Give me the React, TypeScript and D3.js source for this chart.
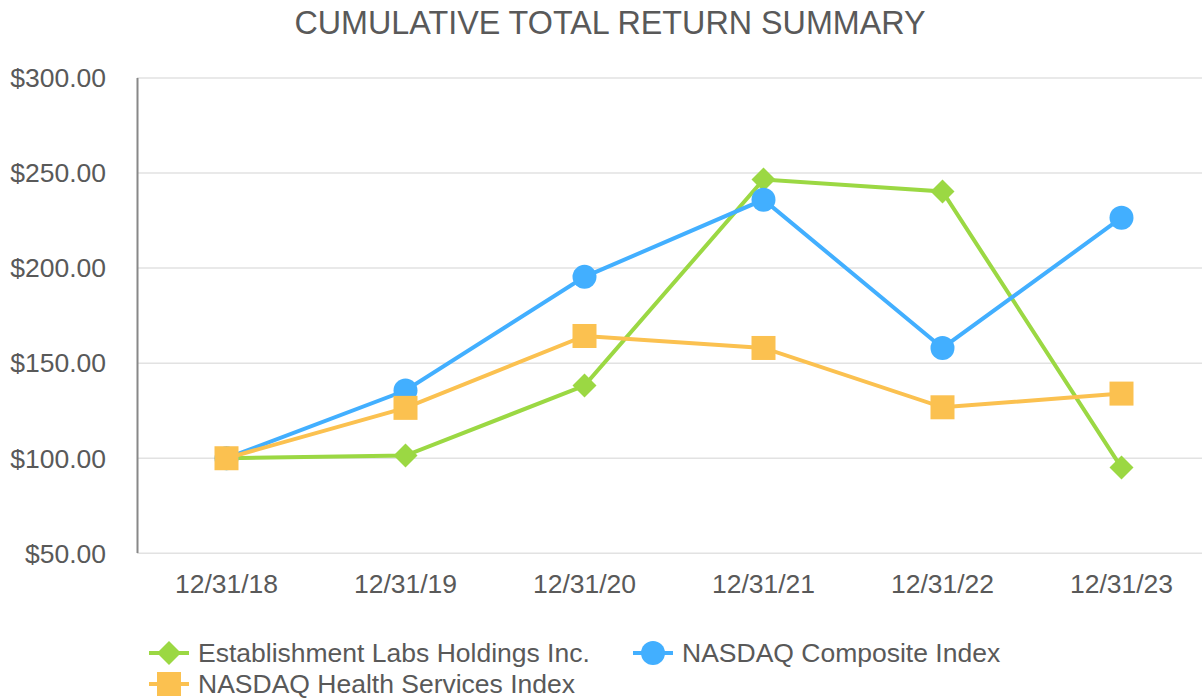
import React from "react";
import * as d3 from "d3";

const categories = ["12/31/18", "12/31/19", "12/31/20", "12/31/21", "12/31/22", "12/31/23"];
const establishment = [100, 101.4, 138.2, 246.6, 240.3, 95.1];
const nasdaqComposite = [100, 135.6, 195.4, 236, 158, 226.5];
const nasdaqHealth = [100, 126.5, 164.3, 158, 126.8, 134];
const yTicks = [50, 100, 150, 200, 250, 300];

const seriesNames = ["Establishment Labs Holdings Inc.", "NASDAQ Composite Index", "NASDAQ Health Services Index"];
const colors = ["#9BD843", "#42AFFF", "#FBC150"];

const W = 1202;
const H = 698;
const FONT = "'Liberation Sans', Arial, sans-serif";
const TEXT = "#595959";
const FS = 26.5;

function Marker({ kind, x, y, color }: { kind: string; x: number; y: number; color: string }) {
  if (kind === "diamond") {
    const r = 12;
    return <path d={`M${x},${y - r}L${x + r},${y}L${x},${y + r}L${x - r},${y}Z`} fill={color} />;
  }
  if (kind === "circle") return <circle cx={x} cy={y} r={12} fill={color} />;
  return <rect x={x - 12} y={y - 12} width={24} height={24} fill={color} />;
}

export default function App() {
  const x = d3.scalePoint<string>().domain(categories).range([137, 1211]).padding(0.5);
  const y = d3.scaleLinear().domain([50, 300]).range([553.3, 78]);
  const line = d3
    .line<number>()
    .x((_, i) => x(categories[i]) as number)
    .y((d) => y(d));

  const series = [
    { name: seriesNames[0], values: establishment, color: colors[0], kind: "diamond" },
    { name: seriesNames[1], values: nasdaqComposite, color: colors[1], kind: "circle" },
    { name: seriesNames[2], values: nasdaqHealth, color: colors[2], kind: "square" },
  ];

  const legend = [
    { s: series[0], lx: 169, ly: 653 },
    { s: series[1], lx: 653, ly: 653 },
    { s: series[2], lx: 169, ly: 684 },
  ];

  return (
    <svg width={W} height={H} style={{ position: "absolute", left: 0, top: 0, background: "#fff" }} fontFamily={FONT}>
      <text x={610} y={34} textAnchor="middle" fontSize={32.3} fill={TEXT}>
        CUMULATIVE TOTAL RETURN SUMMARY
      </text>
      {yTicks.map((t) => (
        <g key={t}>
          <line x1={137} x2={W} y1={y(t)} y2={y(t)} stroke="#e2e2e2" strokeWidth={1.5} />
          <text x={106} y={y(t)} dy="0.35em" textAnchor="end" fontSize={FS} fill={TEXT}>
            {d3.format("$,.2f")(t)}
          </text>
        </g>
      ))}
      <line x1={137.5} x2={137.5} y1={78} y2={553} stroke="#888" strokeWidth={2} />
      {categories.map((c) => (
        <text key={c} x={x(c)} y={593} textAnchor="middle" fontSize={FS} fill={TEXT}>
          {c}
        </text>
      ))}
      {series.map((s) => (
        <g key={s.name}>
          <path d={line(s.values) || ""} fill="none" stroke={s.color} strokeWidth={4} />
          {s.values.map((v, i) => (
            <Marker key={i} kind={s.kind} x={x(categories[i]) as number} y={y(v)} color={s.color} />
          ))}
        </g>
      ))}
      {legend.map(({ s, lx, ly }) => (
        <g key={s.name}>
          <line x1={lx - 20} x2={lx + 20} y1={ly} y2={ly} stroke={s.color} strokeWidth={4} />
          <Marker kind={s.kind} x={lx} y={ly} color={s.color} />
          <text x={lx + 29} y={ly} dy="0.35em" fontSize={FS} fill={TEXT}>
            {s.name}
          </text>
        </g>
      ))}
    </svg>
  );
}
